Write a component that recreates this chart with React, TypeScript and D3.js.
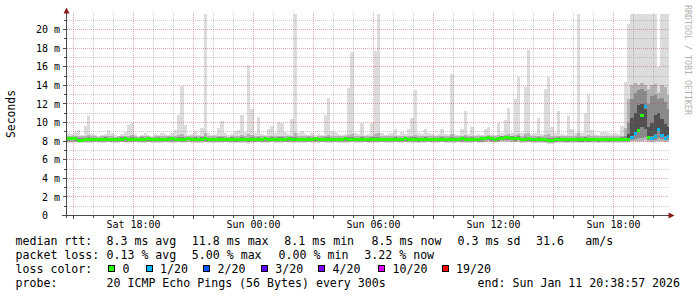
import React from "react";
import * as d3 from "d3";

// ---------- time base ----------
const BIN_START = Date.UTC(2026, 0, 10, 14, 40);
const BIN_MS = 10 * 60 * 1000;
const X_START = Date.UTC(2026, 0, 10, 14, 42);
const X_END = Date.UTC(2026, 0, 11, 20, 45);

// ---------- data (ms) ----------
const rttMedian = [
  8.3, 8.3, 8.25, 8.1, 8.1, 8.15, 8.2, 8.2, 8.2, 8.15,
  8.2, 8.2, 8.2, 8.15, 8.2, 8.2, 8.2, 8.25, 8.2, 8.2,
  8.2, 8.2, 8.2, 8.2, 8.25, 8.2, 8.2, 8.2, 8.2, 8.2,
  8.2, 8.25, 8.2, 8.2, 8.2, 8.2, 8.3, 8.2, 8.2, 8.2,
  8.2, 8.25, 8.2, 8.2, 8.15, 8.2, 8.2, 8.2, 8.2, 8.2,
  8.15, 8.2, 8.2, 8.2, 8.15, 8.2, 8.2, 8.2, 8.2, 8.25,
  8.2, 8.2, 8.2, 8.2, 8.2, 8.2, 8.25, 8.2, 8.2, 8.2,
  8.2, 8.2, 8.2, 8.2, 8.25, 8.2, 8.2, 8.2, 8.2, 8.2,
  8.2, 8.2, 8.2, 8.25, 8.2, 8.2, 8.2, 8.2, 8.2, 8.2,
  8.15, 8.2, 8.2, 8.2, 8.2, 8.2, 8.2, 8.2, 8.2, 8.2,
  8.2, 8.25, 8.2, 8.2, 8.2, 8.15, 8.2, 8.2, 8.2, 8.2,
  8.2, 8.2, 8.2, 8.2, 8.2, 8.2, 8.2, 8.2, 8.25, 8.2,
  8.2, 8.2, 8.2, 8.2, 8.25, 8.3, 8.35, 8.25, 8.2, 8.25,
  8.3, 8.4, 8.4, 8.3, 8.25, 8.3, 8.2, 8.2, 8.25, 8.2,
  8.2, 8.2, 8.2, 8.15, 8.1, 8.1, 8.15, 8.2, 8.2, 8.15,
  8.15, 8.15, 8.2, 8.15, 8.15, 8.2, 8.15, 8.2, 8.2, 8.15,
  8.2, 8.2, 8.15, 8.2, 8.2, 8.2, 8.2, 8.2, 8.2, 8.4,
  8.8, 9.1, 10.8, 11.7, 8.4, 8.3, 8.5, 9.3, 8.6, 8.3, 8.5,
];

const rttMax = [
  8.9, 8.8, 9.0, 9.2, 8.7, 9.6, 10.7, 8.8, 8.7, 8.6,
  8.7, 8.8, 9.2, 8.9, 8.7, 8.6, 8.8, 9.0, 9.7, 9.9,
  8.8, 8.6, 8.7, 8.9, 8.7, 8.6, 8.8, 8.7, 8.9, 8.8,
  8.7, 8.9, 9.2, 10.8, 13.9, 9.7, 8.7, 8.8, 9.1, 8.7,
  9.4, 22, 8.9, 8.7, 8.8, 9.4, 10.2, 8.9, 8.7, 8.8,
  9.1, 9.2, 10.8, 9.0, 16.2, 11.5, 8.9, 10.6, 8.8, 8.7,
  9.3, 9.6, 8.9, 10.1, 9.9, 9.0, 8.8, 10.4, 22, 8.9,
  9.1, 8.8, 8.7, 8.9, 8.7, 8.8, 8.7, 10.8, 12.6, 9.1,
  9.0, 8.8, 8.7, 8.8, 13.7, 17.6, 8.9, 8.8, 9.9, 8.7,
  8.8, 9.9, 17.7, 22, 8.9, 8.7, 8.8, 8.9, 9.3, 8.7,
  9.0, 8.8, 9.3, 10.5, 13.5, 8.9, 8.8, 9.3, 8.9, 8.8,
  8.7, 8.8, 9.3, 8.8, 8.7, 15.2, 8.8, 8.7, 9.3, 11.2,
  8.8, 9.5, 8.7, 8.8, 8.7, 9.3, 9.5, 8.8, 8.7, 9.9,
  8.9, 10.3, 11.6, 8.9, 12.5, 14.9, 8.9, 13.8, 17.8, 8.8,
  8.9, 10.5, 8.8, 13.6, 14.9, 9.5, 8.9, 11.2, 8.8, 8.7,
  10.7, 9.3, 8.9, 22, 8.9, 11.0, 13.1, 9.2, 8.8, 8.7,
  9.0, 9.0, 8.9, 8.8, 8.9, 8.8, 9.6, 14.4, 20.6, 22,
  22, 22, 22, 22, 22, 22, 22, 16.0, 22, 22, 22,
];

const rttP90 = [
  8.6, 8.5, 8.55, 8.6, 8.5, 8.6, 8.7, 8.5, 8.5, 8.45,
  8.5, 8.5, 8.6, 8.5, 8.45, 8.5, 8.5, 8.55, 8.6, 8.65,
  8.5, 8.45, 8.5, 8.5, 8.5, 8.45, 8.5, 8.5, 8.55, 8.5,
  8.5, 8.55, 8.6, 8.7, 8.8, 8.6, 8.5, 8.5, 8.55, 8.5,
  8.6, 8.9, 8.5, 8.5, 8.5, 8.6, 8.6, 8.5, 8.45, 8.5,
  8.55, 8.6, 8.7, 8.5, 8.8, 8.7, 8.5, 8.6, 8.5, 8.5,
  8.55, 8.6, 8.5, 8.6, 8.6, 8.5, 8.5, 8.6, 8.9, 8.5,
  8.55, 8.5, 8.5, 8.5, 8.45, 8.5, 8.5, 8.6, 8.7, 8.55,
  8.5, 8.5, 8.5, 8.5, 8.7, 8.8, 8.5, 8.5, 8.6, 8.5,
  8.5, 8.6, 8.8, 8.9, 8.5, 8.5, 8.5, 8.5, 8.55, 8.5,
  8.55, 8.5, 8.55, 8.6, 8.7, 8.5, 8.5, 8.55, 8.5, 8.5,
  8.5, 8.5, 8.55, 8.5, 8.5, 8.8, 8.5, 8.5, 8.6, 8.7,
  8.5, 8.6, 8.5, 8.55, 8.5, 8.6, 8.65, 8.55, 8.5, 8.65,
  8.6, 8.7, 8.8, 8.6, 8.7, 8.8, 8.55, 8.75, 8.9, 8.5,
  8.55, 8.6, 8.5, 8.7, 8.8, 8.55, 8.5, 8.6, 8.5, 8.5,
  8.6, 8.5, 8.5, 8.9, 8.5, 8.6, 8.7, 8.55, 8.5, 8.5,
  8.55, 8.5, 8.5, 8.5, 8.5, 8.5, 8.6, 9.4, 12.5, 14.0,
  14.2, 14.0, 14.3, 14.0, 13.6, 14.0, 14.1, 13.2, 14.0, 13.8, 13.0,
];

const rttP75 = [
  8.45, 8.45, 8.4, 8.3, 8.3, 8.35, 8.4, 8.36, 8.36, 8.32,
  8.36, 8.4, 8.36, 8.32, 8.36, 8.36, 8.4, 8.42, 8.36, 8.4,
  8.36, 8.36, 8.4, 8.36, 8.42, 8.36, 8.36, 8.4, 8.36, 8.36,
  8.4, 8.42, 8.36, 8.4, 8.42, 8.36, 8.46, 8.36, 8.4, 8.36,
  8.4, 8.45, 8.36, 8.36, 8.32, 8.4, 8.4, 8.36, 8.36, 8.4,
  8.32, 8.36, 8.4, 8.36, 8.36, 8.4, 8.36, 8.4, 8.36, 8.42,
  8.36, 8.4, 8.36, 8.4, 8.4, 8.36, 8.42, 8.4, 8.45, 8.36,
  8.36, 8.36, 8.4, 8.36, 8.42, 8.36, 8.36, 8.4, 8.42, 8.36,
  8.36, 8.36, 8.36, 8.42, 8.4, 8.45, 8.36, 8.36, 8.4, 8.36,
  8.32, 8.4, 8.42, 8.45, 8.36, 8.36, 8.36, 8.36, 8.4, 8.36,
  8.36, 8.42, 8.36, 8.4, 8.42, 8.32, 8.36, 8.4, 8.36, 8.36,
  8.36, 8.36, 8.4, 8.36, 8.36, 8.42, 8.36, 8.36, 8.42, 8.4,
  8.36, 8.4, 8.36, 8.36, 8.42, 8.46, 8.52, 8.42, 8.36, 8.45,
  8.5, 8.58, 8.6, 8.5, 8.45, 8.5, 8.36, 8.4, 8.45, 8.36,
  8.36, 8.4, 8.36, 8.32, 8.28, 8.3, 8.32, 8.4, 8.36, 8.32,
  8.35, 8.32, 8.36, 8.4, 8.32, 8.4, 8.36, 8.36, 8.36, 8.32,
  8.36, 8.36, 8.32, 8.36, 8.36, 8.36, 8.4, 8.5, 10.0, 12.5,
  13.2, 13.5, 13.6, 13.4, 12.0, 12.8, 13.0, 12.5, 12.6, 12.2, 11.5,
];

const rttP60 = [
  8.37, 8.37, 8.32, 8.17, 8.17, 8.22, 8.27, 8.27, 8.27, 8.22,
  8.27, 8.27, 8.27, 8.22, 8.27, 8.27, 8.27, 8.32, 8.27, 8.27,
  8.27, 8.27, 8.27, 8.27, 8.32, 8.27, 8.27, 8.27, 8.27, 8.27,
  8.27, 8.32, 8.27, 8.27, 8.27, 8.27, 8.37, 8.27, 8.27, 8.27,
  8.27, 8.32, 8.27, 8.27, 8.22, 8.27, 8.27, 8.27, 8.27, 8.27,
  8.22, 8.27, 8.27, 8.27, 8.22, 8.27, 8.27, 8.27, 8.27, 8.32,
  8.27, 8.27, 8.27, 8.27, 8.27, 8.27, 8.32, 8.27, 8.27, 8.27,
  8.27, 8.27, 8.27, 8.27, 8.32, 8.27, 8.27, 8.27, 8.27, 8.27,
  8.27, 8.27, 8.27, 8.32, 8.27, 8.27, 8.27, 8.27, 8.27, 8.27,
  8.22, 8.27, 8.27, 8.27, 8.27, 8.27, 8.27, 8.27, 8.27, 8.27,
  8.27, 8.32, 8.27, 8.27, 8.27, 8.22, 8.27, 8.27, 8.27, 8.27,
  8.27, 8.27, 8.27, 8.27, 8.27, 8.27, 8.27, 8.27, 8.32, 8.27,
  8.27, 8.27, 8.27, 8.27, 8.32, 8.37, 8.42, 8.32, 8.27, 8.32,
  8.37, 8.47, 8.47, 8.37, 8.32, 8.37, 8.27, 8.27, 8.32, 8.27,
  8.27, 8.27, 8.27, 8.22, 8.17, 8.17, 8.22, 8.27, 8.27, 8.22,
  8.22, 8.22, 8.27, 8.22, 8.22, 8.27, 8.22, 8.27, 8.27, 8.22,
  8.27, 8.27, 8.22, 8.27, 8.27, 8.27, 8.27, 8.27, 8.8, 10.5,
  11.0, 11.9, 12.0, 11.5, 9.5, 10.0, 10.8, 11.0, 10.4, 9.8, 9.5,
];

const rttP40 = [
  8.22, 8.22, 8.18, 8.04, 8.04, 8.08, 8.13, 8.13, 8.13, 8.08,
  8.13, 8.13, 8.13, 8.08, 8.13, 8.13, 8.13, 8.18, 8.13, 8.13,
  8.13, 8.13, 8.13, 8.13, 8.18, 8.13, 8.13, 8.13, 8.13, 8.13,
  8.13, 8.18, 8.13, 8.13, 8.13, 8.13, 8.22, 8.13, 8.13, 8.13,
  8.13, 8.18, 8.13, 8.13, 8.08, 8.13, 8.13, 8.13, 8.13, 8.13,
  8.08, 8.13, 8.13, 8.13, 8.08, 8.13, 8.13, 8.13, 8.13, 8.18,
  8.13, 8.13, 8.13, 8.13, 8.13, 8.13, 8.18, 8.13, 8.13, 8.13,
  8.13, 8.13, 8.13, 8.13, 8.18, 8.13, 8.13, 8.13, 8.13, 8.13,
  8.13, 8.13, 8.13, 8.18, 8.13, 8.13, 8.13, 8.13, 8.13, 8.13,
  8.08, 8.13, 8.13, 8.13, 8.13, 8.13, 8.13, 8.13, 8.13, 8.13,
  8.13, 8.18, 8.13, 8.13, 8.13, 8.08, 8.13, 8.13, 8.13, 8.13,
  8.13, 8.13, 8.13, 8.13, 8.13, 8.13, 8.13, 8.13, 8.18, 8.13,
  8.13, 8.13, 8.13, 8.13, 8.18, 8.22, 8.27, 8.18, 8.13, 8.18,
  8.22, 8.3, 8.3, 8.22, 8.18, 8.22, 8.13, 8.13, 8.18, 8.13,
  8.13, 8.13, 8.13, 8.08, 8.04, 8.04, 8.08, 8.13, 8.13, 8.08,
  8.08, 8.08, 8.13, 8.08, 8.08, 8.13, 8.08, 8.13, 8.13, 8.08,
  8.13, 8.13, 8.08, 8.13, 8.13, 8.13, 8.13, 8.13, 8.3, 8.6,
  8.9, 9.2, 9.5, 9.3, 8.5, 8.6, 8.8, 9.2, 8.8, 8.5, 8.6,
];

const rttP25 = [
  8.05, 8.1, 8.0, 7.95, 7.95, 8.0, 8.05, 7.98, 8.05, 7.97,
  8.05, 7.97, 8.05, 8.0, 7.97, 8.05, 8.05, 7.98, 7.97, 8.05,
  8.05, 7.97, 7.98, 8.05, 8.05, 7.97, 8.05, 7.97, 8.05, 8.05,
  7.97, 8.05, 7.98, 8.05, 8.05, 7.97, 8.1, 8.05, 7.97, 8.05,
  8.05, 7.98, 8.05, 7.97, 7.97, 8.05, 7.98, 8.05, 7.97, 8.05,
  7.95, 8.05, 7.97, 8.05, 7.95, 8.05, 7.97, 8.05, 8.05, 8.05,
  7.97, 8.05, 7.98, 8.05, 7.97, 8.05, 8.05, 7.97, 8.05, 7.97,
  8.05, 7.97, 8.05, 8.05, 8.05, 7.97, 8.05, 7.98, 8.05, 7.97,
  8.05, 8.05, 7.97, 8.05, 7.97, 8.05, 8.05, 7.97, 8.05, 8.05,
  7.95, 8.05, 7.97, 8.05, 8.05, 7.97, 8.05, 8.05, 7.97, 8.05,
  8.05, 8.05, 7.97, 8.05, 7.97, 7.95, 8.05, 7.98, 8.05, 7.97,
  8.05, 7.97, 8.05, 8.05, 7.97, 8.05, 7.97, 8.05, 8.05, 8.05,
  7.97, 8.05, 8.05, 7.97, 8.05, 8.1, 8.1, 8.05, 7.97, 8.05,
  8.1, 8.15, 8.15, 8.1, 8.05, 8.1, 7.97, 8.05, 8.05, 7.97,
  8.05, 7.97, 8.05, 7.95, 7.9, 7.92, 7.95, 8.05, 7.97, 7.95,
  7.95, 7.97, 8.05, 7.95, 7.95, 8.05, 7.95, 8.05, 7.97, 7.95,
  8.05, 7.97, 7.95, 8.05, 7.97, 8.05, 7.97, 8.05, 8.05, 8.1,
  8.2, 8.3, 8.3, 8.4, 8.15, 8.1, 8.15, 8.3, 8.2, 8.1, 8.15,
];

const rttP10 = [
  7.92, 7.92, 7.95, 7.85, 7.85, 7.9, 7.9, 7.9, 7.95, 7.9,
  7.9, 7.9, 7.95, 7.9, 7.9, 7.9, 7.95, 7.9, 7.9, 7.9,
  7.95, 7.9, 7.9, 7.9, 7.95, 7.9, 7.9, 7.9, 7.9, 7.95,
  7.9, 7.9, 7.9, 7.95, 7.9, 7.9, 7.95, 7.9, 7.9, 7.9,
  7.9, 7.95, 7.9, 7.9, 7.85, 7.9, 7.9, 7.95, 7.9, 7.9,
  7.85, 7.9, 7.9, 7.9, 7.85, 7.9, 7.9, 7.95, 7.9, 7.9,
  7.9, 7.95, 7.9, 7.9, 7.9, 7.95, 7.9, 7.9, 7.9, 7.9,
  7.9, 7.9, 7.95, 7.9, 7.9, 7.9, 7.95, 7.9, 7.9, 7.9,
  7.95, 7.9, 7.9, 7.9, 7.9, 7.95, 7.9, 7.9, 7.9, 7.95,
  7.85, 7.9, 7.9, 7.9, 7.95, 7.9, 7.9, 7.9, 7.95, 7.9,
  7.9, 7.95, 7.9, 7.9, 7.9, 7.85, 7.9, 7.9, 7.95, 7.9,
  7.9, 7.9, 7.95, 7.9, 7.9, 7.9, 7.9, 7.95, 7.9, 7.9,
  7.9, 7.9, 7.95, 7.9, 7.9, 7.95, 8.0, 7.95, 7.9, 7.95,
  8.0, 8.0, 8.05, 7.95, 7.95, 8.0, 7.9, 7.9, 7.95, 7.9,
  7.9, 7.9, 7.9, 7.85, 7.8, 7.8, 7.85, 7.9, 7.9, 7.85,
  7.85, 7.85, 7.9, 7.85, 7.85, 7.9, 7.85, 7.9, 7.9, 7.85,
  7.9, 7.9, 7.85, 7.9, 7.9, 7.9, 7.9, 7.9, 7.95, 8.0,
  8.0, 8.05, 8.05, 8.1, 8.0, 7.95, 8.0, 8.05, 8.0, 7.95, 8.0,
];

const rttMin = [
  7.8, 7.8, 7.85, 7.75, 7.75, 7.8, 7.8, 7.8, 7.85, 7.8,
  7.8, 7.8, 7.85, 7.8, 7.8, 7.8, 7.85, 7.8, 7.8, 7.8,
  7.85, 7.8, 7.8, 7.8, 7.85, 7.8, 7.8, 7.8, 7.8, 7.85,
  7.8, 7.8, 7.8, 7.85, 7.8, 7.8, 7.85, 7.8, 7.8, 7.8,
  7.8, 7.85, 7.8, 7.8, 7.75, 7.8, 7.8, 7.85, 7.8, 7.8,
  7.75, 7.8, 7.8, 7.8, 7.7, 7.8, 7.8, 7.85, 7.8, 7.8,
  7.8, 7.85, 7.8, 7.8, 7.8, 7.85, 7.8, 7.8, 7.8, 7.8,
  7.8, 7.8, 7.85, 7.8, 7.8, 7.8, 7.85, 7.8, 7.8, 7.8,
  7.85, 7.8, 7.8, 7.8, 7.8, 7.85, 7.8, 7.8, 7.8, 7.85,
  7.75, 7.8, 7.8, 7.8, 7.85, 7.8, 7.8, 7.8, 7.85, 7.8,
  7.8, 7.85, 7.8, 7.8, 7.8, 7.75, 7.8, 7.8, 7.85, 7.8,
  7.8, 7.8, 7.85, 7.8, 7.8, 7.8, 7.8, 7.85, 7.8, 7.8,
  7.8, 7.8, 7.85, 7.8, 7.8, 7.85, 7.9, 7.85, 7.8, 7.85,
  7.9, 7.9, 7.95, 7.85, 7.85, 7.9, 7.8, 7.8, 7.85, 7.8,
  7.8, 7.8, 7.8, 7.75, 7.7, 7.7, 7.75, 7.8, 7.8, 7.75,
  7.75, 7.75, 7.8, 7.75, 7.75, 7.8, 7.75, 7.8, 7.8, 7.75,
  7.8, 7.8, 7.75, 7.8, 7.8, 7.8, 7.8, 7.8, 7.8, 7.85,
  7.85, 7.9, 7.9, 7.9, 7.85, 7.85, 7.85, 7.9, 7.85, 7.85, 7.85,
];

const lossCount = [
  0, 0, 0, 0, 0, 0, 0, 0, 0, 0,
  0, 0, 0, 0, 0, 0, 0, 0, 0, 0,
  0, 0, 0, 0, 0, 0, 0, 0, 0, 0,
  0, 0, 0, 0, 0, 0, 0, 0, 0, 0,
  0, 0, 0, 0, 0, 0, 0, 0, 0, 0,
  0, 0, 0, 0, 0, 0, 0, 0, 0, 0,
  0, 0, 0, 0, 0, 0, 0, 0, 0, 0,
  0, 0, 0, 0, 0, 0, 0, 0, 0, 0,
  0, 0, 0, 0, 0, 0, 0, 0, 0, 0,
  0, 0, 0, 0, 0, 0, 0, 0, 0, 0,
  0, 0, 0, 0, 0, 0, 0, 0, 0, 0,
  0, 0, 0, 0, 0, 0, 0, 0, 0, 0,
  0, 0, 0, 0, 0, 0, 0, 0, 0, 0,
  0, 0, 0, 0, 0, 0, 0, 0, 0, 0,
  0, 0, 0, 0, 0, 0, 0, 0, 0, 0,
  0, 0, 0, 0, 0, 0, 0, 0, 0, 0,
  0, 0, 0, 0, 0, 0, 0, 0, 0, 1,
  1, 0, 0, 1, 0, 1, 1, 1, 1, 1, 1,
];

// ---------- legend data ----------
const lossThresholds = [0, 1, 2, 3, 4, 10, 19];
const lossLabels = ["0", "1/20", "2/20", "3/20", "4/20", "10/20", "19/20"];
const lossColors = ["#26ff00", "#00b8ff", "#0059ff", "#5e00ff", "#7e00ff", "#dd00ff", "#ff0000"];
const rttStats = ["8.3 ms avg", "11.8 ms max", "8.1 ms min", "8.5 ms now", "0.3 ms sd", "31.6", "am/s"];
const lossStats = ["0.13 % avg", "5.00 % max", "0.00 % min", "3.22 % now"];
const probeText = "20 ICMP Echo Pings (56 Bytes) every 300s";
const endText = "end: Sun Jan 11 20:38:57 2026";
const yTickValues = [0, 2, 4, 6, 8, 10, 12, 14, 16, 18, 20];

// ---------- layout ----------
const rttStatX = [106.5, 191.8, 284.3, 371.6, 457.6, 536, 585.3];
const lossStatX = [106.5, 191.8, 278.6, 364.3];
const legendBoxX = [108, 145.5, 203, 260.7, 318, 378, 441.5];
const LEG_FONT = "'DejaVu Sans Mono', monospace";

function lossColor(n: number) {
  let c = lossColors[0];
  lossThresholds.forEach((t, i) => {
    if (n >= t) c = lossColors[i];
  });
  return c;
}

export default function App() {
  const x = d3.scaleUtc().domain([new Date(X_START), new Date(X_END)]).range([67.5, 668.5]);
  const y = d3.scaleLinear().domain([0, 20]).range([215.5, 29.5]);

  const N = rttMedian.length;
  const binTime = (i: number) => new Date(BIN_START + i * BIN_MS);

  const mkArea = (lo: number[], hi: number[]) => {
    const pts = lo.map((v, i) => ({ t: binTime(i), lo: v, hi: hi[i] }));
    pts.push({ t: binTime(N), lo: lo[N - 1], hi: hi[N - 1] });
    return d3
      .area<{ t: Date; lo: number; hi: number }>()
      .x((d) => x(d.t))
      .y0((d) => y(d.lo))
      .y1((d) => y(d.hi))
      .curve(d3.curveStepAfter)(pts) as string;
  };

  const bands = [
    { lo: rttMin, hi: rttMax, color: "#dcdcdc" },
    { lo: rttP10, hi: rttP90, color: "#b2b2b2" },
    { lo: rttP25, hi: rttP75, color: "#8a8a8a" },
    { lo: rttP40, hi: rttP60, color: "#505050" },
  ];

  const hours = d3.utcHour.every(1)!.range(new Date(X_START), new Date(X_END));
  const yMinor = d3.range(1, 22);
  const fmt = d3.utcFormat("%a %H:%M");

  return (
    <div style={{ position: "absolute", left: 0, top: 0 }}>
      <svg width={697} height={297} style={{ display: "block", background: "#fff" }}>
        <defs>
          <clipPath id="plotclip">
            <rect x={67} y={14} width={602} height={202} />
          </clipPath>
        </defs>
        <rect x={0} y={0} width={697} height={297} fill="#ffffff" />

        {/* smoke */}
        <g clipPath="url(#plotclip)" shapeRendering="crispEdges">
          {bands.map((b, i) => (
            <path key={i} d={mkArea(b.lo, b.hi)} fill={b.color} />
          ))}
        </g>

        {/* grid */}
        <g shapeRendering="crispEdges">
          {yMinor.map((v) => (
            <line
              key={"h" + v}
              x1={67}
              x2={668}
              y1={y(v)}
              y2={y(v)}
              stroke={v % 2 === 0 ? "#c04040" : "#808080"}
              strokeOpacity={v % 2 === 0 ? 0.45 : 0.4}
              strokeDasharray="1,1"
            />
          ))}
          {hours.map((h) => {
            const major = h.getUTCHours() % 3 === 0;
            return (
              <line
                key={"v" + h.getTime()}
                x1={x(h)}
                x2={x(h)}
                y1={13}
                y2={215}
                stroke={major ? "#c04040" : "#808080"}
                strokeOpacity={major ? 0.45 : 0.4}
                strokeDasharray="1,1"
              />
            );
          })}
        </g>

        {/* median, coloured by loss */}
        <g shapeRendering="crispEdges">
          {rttMedian.map((m, i) => {
            const x0 = x(binTime(i));
            const x1 = Math.min(x(binTime(i + 1)), 668.5);
            const xs = Math.max(x0, 67);
            if (x1 <= xs) return null;
            return (
              <rect key={i} x={xs} y={y(m) - 1.5} width={x1 - xs} height={3} fill={lossColor(lossCount[i])} />
            );
          })}
        </g>

        {/* axes */}
        <g shapeRendering="crispEdges" stroke="#4a4a4a">
          <line x1={66.5} x2={66.5} y1={13} y2={218} />
          <line x1={62} x2={669} y1={215.5} y2={215.5} />
          {yMinor.map((v) => (
            <line key={"yt" + v} x1={v % 2 === 0 ? 63 : 64} x2={66} y1={y(v)} y2={y(v)} />
          ))}
          {hours.map((h) => (
            <line
              key={"xt" + h.getTime()}
              x1={x(h)}
              x2={x(h)}
              y1={216}
              y2={h.getUTCHours() % 3 === 0 ? 219 : 218}
            />
          ))}
        </g>
        <polygon points="63.5,13.5 69.5,13.5 66.5,7.5" fill="#8b1c1c" />
        <polygon points="668.5,212.5 668.5,218.5 674.5,215.5" fill="#8b1c1c" />

        {/* tick labels */}
        <g fontFamily={LEG_FONT} fontSize={10} fill="#000">
          {yTickValues.map((v) => (
            <text key={"yl" + v} x={v === 0 ? 48 : 60} y={y(v) + 3.6} textAnchor="end">
              {v === 0 ? "0" : `${v} m`}
            </text>
          ))}
          {hours
            .filter((h) => h.getUTCHours() % 6 === 0)
            .map((h) => (
              <text key={"xl" + h.getTime()} x={x(h)} y={228} textAnchor="middle">
                {fmt(h)}
              </text>
            ))}
        </g>

        {/* axis title */}
        <text
          transform="translate(14.5,114) rotate(-90)"
          textAnchor="middle"
          fontFamily={LEG_FONT}
          fontSize={11.4}
          fill="#000"
        >
          Seconds
        </text>

        {/* watermark */}
        <text
          transform="translate(685,5) rotate(90)"
          fontFamily={LEG_FONT}
          fontSize={8.3}
          fill="#b0b0b0"
        >
          RRDTOOL / TOBI OETIKER
        </text>

        {/* legend */}
        <g fontFamily={LEG_FONT} fontSize={11.6} fill="#000">
          <text x={15.5} y={244.5}>median rtt:</text>
          {rttStats.map((s, i) => (
            <text key={"rs" + i} x={rttStatX[i]} y={244.5}>{s}</text>
          ))}
          <text x={15.5} y={258.7}>packet loss:</text>
          {lossStats.map((s, i) => (
            <text key={"ls" + i} x={lossStatX[i]} y={258.7}>{s}</text>
          ))}
          <text x={15.5} y={272.7}>loss color:</text>
          {lossLabels.map((l, i) => (
            <g key={"lc" + i}>
              <rect
                x={legendBoxX[i] + 0.5}
                y={265.5}
                width={6}
                height={6}
                fill={lossColors[i]}
                stroke="#000"
                strokeWidth={1}
                shapeRendering="crispEdges"
              />
              <text x={legendBoxX[i] + 14.5} y={272.7}>{l}</text>
            </g>
          ))}
          <text x={15.5} y={286.7}>probe:</text>
          <text x={106.5} y={286.7}>{probeText}</text>
          <text x={477.6} y={286.7}>{endText}</text>
        </g>
      </svg>
    </div>
  );
}
